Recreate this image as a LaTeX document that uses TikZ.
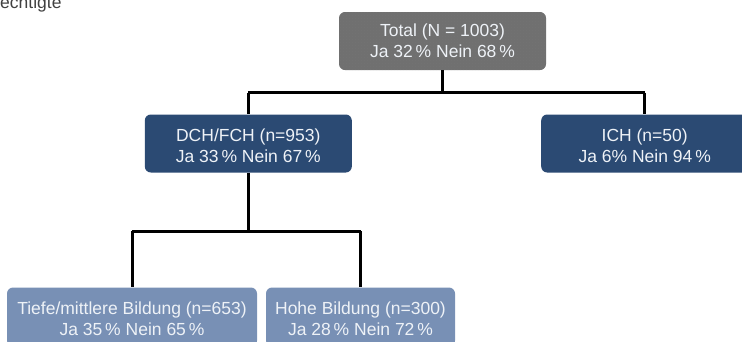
\documentclass[tikz,border=0pt]{standalone}
\usepackage{fontspec}
\setmainfont{Liberation Sans}
\usetikzlibrary{patterns}
\definecolor{darkblue}{HTML}{2B4A73}
\definecolor{lightblue}{HTML}{7890B5}
\definecolor{boxgray}{HTML}{707070}
\definecolor{boxtext}{HTML}{EEF2F7}
\tikzset{boxfont/.style={font=\fontsize{17.5}{21}\selectfont}}
% strut that lowers a two-line label slightly inside its box
\newcommand{\toprule}{\rule{0pt}{17pt}}
\begin{document}
\begin{tikzpicture}[x=1pt,y=-1pt,
  treebox/.style={rounded corners=6pt, minimum width=207pt, minimum height=58pt,
    text=boxtext, align=center, inner sep=0pt, boxfont},
  totalbox/.style={treebox, fill=boxgray},
  groupbox/.style={treebox, fill=darkblue},
  subbox/.style={treebox, fill=lightblue, minimum height=59pt},
  branch/.style={draw=black, line width=3pt}]
  \useasboundingbox (0,0) rectangle (742,341);
  \clip (0,0) rectangle (742,341);

  % caption fragment at the top left
  \node[anchor=base west, inner sep=0pt, text=black!75, boxfont] (cap) at (0,8) {echtigte};

  % connector junctions
  \coordinate (j1) at (442.5,92.5);
  \coordinate (j1l) at (248.3,92.5);
  \coordinate (j1r) at (644.7,92.5);
  \coordinate (j2) at (248.3,231);
  \coordinate (j2l) at (132,231);
  \coordinate (j2r) at (360.5,231);

  % boxes
  \node[totalbox] (total) at (442.5,41) {\phantom{Total}};
  \begin{scope}
    \clip[rounded corners=6pt] (339,12) rectangle (546,70);
    \fill[pattern=crosshatch dots, pattern color=black!55] (339,12) rectangle (546,70);
  \end{scope}
  \node[text=boxtext, align=center, inner sep=0pt, boxfont] (totaltext) at (total.center)
        {Total (N = 1003)\\Ja 32\,\% Nein 68\,\%};

  \node[groupbox] (dch) at (248.3,143.5) {\toprule DCH/FCH (n=953)\\Ja 33\,\% Nein 67\,\%};
  \node[groupbox] (ich) at (644.7,143.5) {\toprule ICH (n=50)\\Ja 6\% Nein 94\,\%};

  \node[subbox, minimum width=250pt] (tief) at (132,317) {\toprule Tiefe/mittlere Bildung (n=653)\\Ja 35\,\% Nein 65\,\%};
  \node[subbox, minimum width=189pt] (hoch) at (360.5,317) {\toprule Hohe Bildung (n=300)\\Ja 28\,\% Nein 72\,\%};

  % connectors
  \draw[branch] (total.south) -- (j1);
  \draw[branch] (j1l) -- (j1r);
  \draw[branch] (j1l) -- (j1l |- dch.north);
  \draw[branch] (j1r) -- (j1r |- ich.north);
  \draw[branch] (dch.south) -- (j2);
  \draw[branch] (j2l) -- (j2r);
  \draw[branch] (j2l) -- (j2l |- tief.north);
  \draw[branch] (j2r) -- (j2r |- hoch.north);
\end{tikzpicture}
\end{document}
